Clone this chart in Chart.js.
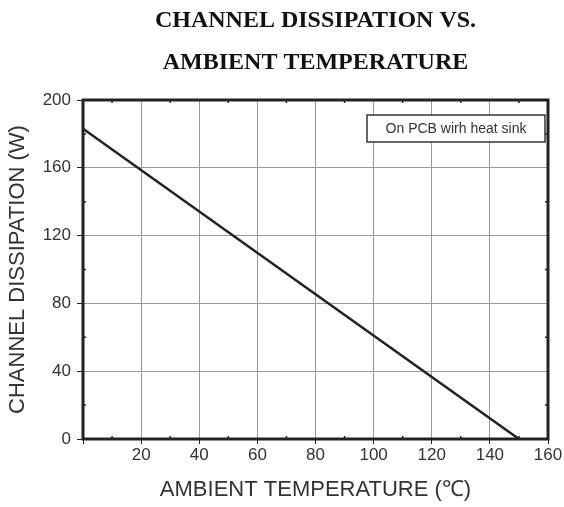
<!DOCTYPE html>
<html>
<head>
<meta charset="utf-8">
<script src="https://cdn.jsdelivr.net/npm/chart.js@4"></script>
<style>
  html, body { margin: 0; padding: 0; background: #fff; }
  #wrap { width: 564px; height: 507px; }
</style>
</head>
<body>
<div id="wrap"><canvas id="c" width="564" height="507"></canvas></div>
<script>
// derating line
const temps = [0, 150];
const dissipation = [183, 0];
const xTicks = [0, 20, 40, 60, 80, 100, 120, 140, 160];
const yTicks = [0, 40, 80, 120, 160, 200];
const legendText = "On PCB wirh heat sink";

// frame, minor ticks and the little legend box
const extras = {
    id: "extras",
    afterDraw(chart) {
        const ctx = chart.ctx;
        const a = chart.chartArea;
        const xs = chart.scales.x, ys = chart.scales.y;
        ctx.save();
        ctx.strokeStyle = "#222";
        ctx.lineWidth = 1.5;
        for (let v = 10; v < 160; v += 20) {
            const px = xs.getPixelForValue(v);
            ctx.beginPath();
            ctx.moveTo(px, a.bottom); ctx.lineTo(px, a.bottom - 3);
            ctx.moveTo(px, a.top); ctx.lineTo(px, a.top + 3);
            ctx.stroke();
        }
        for (let v = 20; v < 200; v += 40) {
            const py = ys.getPixelForValue(v);
            ctx.beginPath();
            ctx.moveTo(a.left, py); ctx.lineTo(a.left + 3, py);
            ctx.moveTo(a.right, py); ctx.lineTo(a.right - 3, py);
            ctx.stroke();
        }
        ctx.lineWidth = 3;
        ctx.strokeRect(a.left, a.top, a.right - a.left, a.bottom - a.top);

        // legend box
        const bx = a.right - 181, by = a.top + 15, bw = 178, bh = 27;
        ctx.fillStyle = "#fff";
        ctx.fillRect(bx, by, bw, bh);
        ctx.lineWidth = 1.5;
        ctx.strokeStyle = "#333";
        ctx.strokeRect(bx, by, bw, bh);
        ctx.fillStyle = "#333";
        ctx.font = "14px 'Liberation Sans', Arial, sans-serif";
        ctx.textAlign = "center";
        ctx.textBaseline = "middle";
        ctx.fillText(legendText, bx + bw / 2, by + bh / 2 + 1);
        ctx.restore();
    }
};

new Chart(document.getElementById("c"), {
    type: "line",
    data: {
        datasets: [{
            label: legendText,
            data: temps.map((t, i) => ({ x: t, y: dissipation[i] })),
            borderColor: "#222",
            borderWidth: 2.5,
            pointRadius: 0,
            fill: false,
            tension: 0,
        }],
    },
    options: {
        responsive: false,
        animation: false,
        layout: { padding: { top: 0, right: 16, bottom: 0, left: 0 } },
        plugins: {
            legend: { display: false },
            tooltip: { enabled: false },
            title: {
                display: true,
                fullSize: false,
                text: ["CHANNEL DISSIPATION VS.", "AMBIENT TEMPERATURE"],
                color: "#111",
                font: { family: "'Liberation Serif', 'Times New Roman', serif", size: 24, weight: "bold", lineHeight: 1.75 },
                padding: { top: 0, bottom: 16 },
            },
        },
        scales: {
            x: {
                type: "linear",
                min: 0,
                max: 160,
                afterBuildTicks: (s) => { s.ticks = xTicks.map(v => ({ value: v })); },
                afterFit: (s) => { s.height = 68; },
                ticks: {
                    color: "#333",
                    font: { family: "'Liberation Sans', Arial, sans-serif", size: 17 },
                    padding: 1,
                    callback: (v) => v === 0 ? "" : v,
                    maxRotation: 0,
                },
                grid: { color: "#999", lineWidth: 1, tickLength: 5, tickColor: "#222" },
                border: { display: false },
                title: {
                    display: true,
                    text: "AMBIENT TEMPERATURE (\u2103)",
                    color: "#333",
                    font: { family: "'Liberation Sans', Arial, sans-serif", size: 22 },
                    padding: { top: 0, bottom: 4 },
                },
            },
            y: {
                min: 0,
                max: 200,
                afterBuildTicks: (s) => { s.ticks = yTicks.map(v => ({ value: v })); },
                afterFit: (s) => { s.width = 83; },
                ticks: {
                    color: "#333",
                    font: { family: "'Liberation Sans', Arial, sans-serif", size: 17 },
                    padding: 6,
                },
                grid: { color: "#999", lineWidth: 1, tickLength: 6, tickColor: "#222" },
                border: { display: false },
                title: {
                    display: true,
                    text: "CHANNEL DISSIPATION (W)",
                    color: "#333",
                    font: { family: "'Liberation Sans', Arial, sans-serif", size: 22 },
                    padding: { top: 5, bottom: 0 },
                },
            },
        },
    },
    plugins: [extras],
});
</script>
</body>
</html>
